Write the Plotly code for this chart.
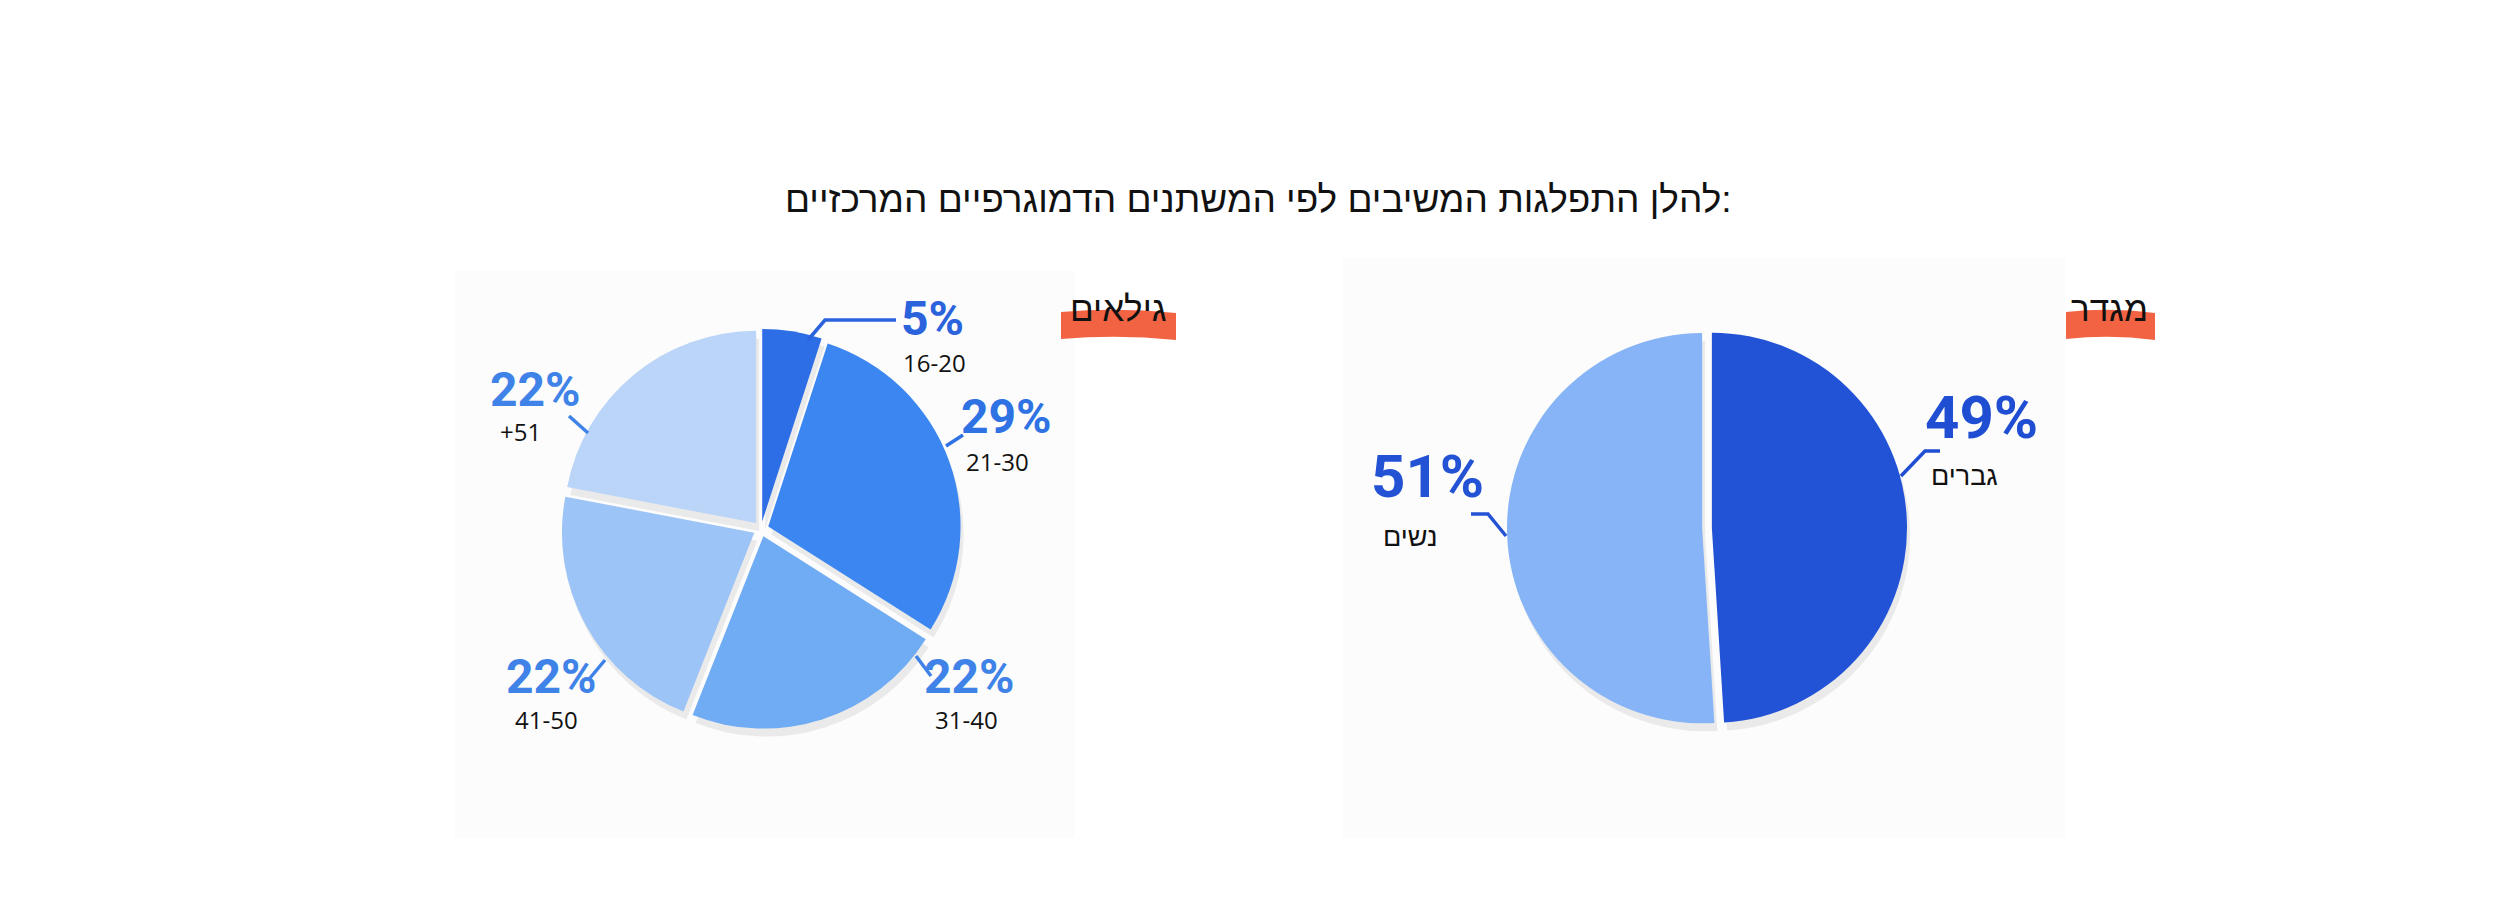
import plotly.graph_objects as go

W, H = 2500, 917

# ---- data ----
age_labels = ["16-20", "21-30", "31-40", "41-50", "+51"]
age_values = [5, 29, 22, 22, 22]
gender_labels = ["גברים", "נשים"]
gender_values = [49, 51]

title_text = "להלן התפלגות המשיבים לפי המשתנים הדמוגרפיים המרכזיים:"
age_header = "גילאים"
gender_header = "מגדר"

# ---- styles ----
age_colors = ["#2d6de6", "#3b86f1", "#70acf4", "#9dc4f6", "#bad5f8"]
gender_colors = ["#2253d6", "#86b4f6"]
age_pct_colors = ["#2a63dc", "#2f72e4", "#3f83e8", "#3f83e8", "#3f83e8"]
gender_pct_colors = ["#1f4ed2", "#2352d4"]
HEB_FONT = "Liberation Sans, DejaVu Sans, sans-serif"
NUM_FONT = "Roboto, Lato, sans-serif"
LBL_FONT = "Open Sans, Noto Sans, sans-serif"


def fx(x):
    return x / W


def fy(y):
    return 1 - y / H


def dom(cx, cy, half, dy=0):
    return dict(x=[fx(cx - half), fx(cx + half)],
                y=[fy(cy + half + dy), fy(cy - half + dy)])


def note(text, x, y, font):
    return dict(text=text, x=fx(x), y=fy(y), xref="paper", yref="paper",
                xanchor="center", yanchor="middle", showarrow=False, font=font)


fig = go.Figure()

# soft drop shadows under the pies
for vals, cx, cy, pull in [(age_values, 753, 521, 0.04), (gender_values, 1699, 520, 0.025)]:
    fig.add_trace(go.Pie(
        values=vals, sort=False, direction="clockwise", rotation=0,
        pull=[pull] * len(vals), textinfo="none", hoverinfo="skip",
        marker=dict(colors=["rgba(0,0,0,0.07)"] * len(vals)),
        domain=dom(cx + 3, cy, 200, dy=8), showlegend=False,
    ))

fig.add_trace(go.Pie(
    labels=age_labels, values=age_values, sort=False, direction="clockwise",
    rotation=0, pull=[0.04] * len(age_values), textinfo="none",
    hovertemplate="%{label}: %{value}%<extra></extra>",
    marker=dict(colors=age_colors, line=dict(width=0)),
    domain=dom(753, 521, 200), showlegend=False,
))

fig.add_trace(go.Pie(
    labels=gender_labels, values=gender_values, sort=False, direction="clockwise",
    rotation=0, pull=[0.025] * len(gender_values), textinfo="none",
    hovertemplate="%{label}: %{value}%<extra></extra>",
    marker=dict(colors=gender_colors, line=dict(width=0)),
    domain=dom(1699, 520, 200), showlegend=False,
))

annotations = []
shapes = []

# faint panels behind the pies
for x0, x1, y0, y1 in [(447, 1067, 263, 830), (1335, 2057, 250, 830)]:
    shapes.append(dict(type="rect", xref="paper", yref="paper", layer="below",
                       x0=fx(x0), x1=fx(x1), y0=fy(y1), y1=fy(y0),
                       fillcolor="#fcfcfc", line=dict(width=0)))

# title
annotations.append(note(title_text, 1250, 192, dict(family=HEB_FONT, size=37, color="#111111")))

# headers with orange brush highlight
for txt, x0, x1, cx in [(age_header, 1053, 1168, 1110), (gender_header, 2058, 2147, 2101)]:
    xm = (x0 + x1) / 2
    path = (f"M {fx(x0)} {fy(304)} Q {fx(xm)} {fy(299)} {fx(x1)} {fy(305)} "
            f"L {fx(x1)} {fy(332)} Q {fx(xm)} {fy(326)} {fx(x0)} {fy(331)} Z")
    shapes.append(dict(type="path", path=path, xref="paper", yref="paper",
                       fillcolor="#f26343", line=dict(width=0), layer="below"))
    annotations.append(note(txt, cx, 300, dict(family=HEB_FONT, size=35, color="#111111")))

# label positions (pct centre, label centre) and leader paths, in pixels
age_pos = [((924, 310), (926, 354)), ((998, 408), (989, 453)), ((962, 668), (958, 711)),
           ((543, 668), (538, 711)), ((527, 381), (512, 423))]
age_leaders = [[(800, 332), (817, 312), (888, 312)], [(938, 438), (955, 427)],
               [(908, 648), (923, 668)], [(597, 652), (582, 670)], [(580, 425), (561, 408)]]
gender_pos = [((1973, 409), (1956, 468)), ((1419, 469), (1402, 529))]
gender_leaders = [[(1893, 468), (1917, 443), (1932, 443)], [(1498, 528), (1480, 506), (1463, 506)]]

for labels, values, pos, leaders, colors, size, lsize in [
    (age_labels, age_values, age_pos, age_leaders, age_pct_colors, 48, 24),
    (gender_labels, gender_values, gender_pos, gender_leaders, gender_pct_colors, 60, 27),
]:
    for lab, val, (pc, lc), pts, col in zip(labels, values, pos, leaders, colors):
        annotations.append(note(f"<b>{val}%</b>", pc[0], pc[1],
                                dict(family=NUM_FONT, size=size, color=col, weight=900)))
        annotations.append(note(lab, lc[0], lc[1],
                                dict(family=HEB_FONT if lab[0] > "z" else LBL_FONT,
                                     size=lsize, color="#111111")))
        path = "M " + " L ".join(f"{fx(x)} {fy(y)}" for x, y in pts)
        shapes.append(dict(type="path", path=path, xref="paper", yref="paper",
                           line=dict(color=col, width=3.5)))

fig.update_layout(
    width=W, height=H,
    margin=dict(l=0, r=0, t=0, b=0),
    paper_bgcolor="white", plot_bgcolor="white",
    annotations=annotations, shapes=shapes,
    showlegend=False,
)

fig.write_html("out.html")
